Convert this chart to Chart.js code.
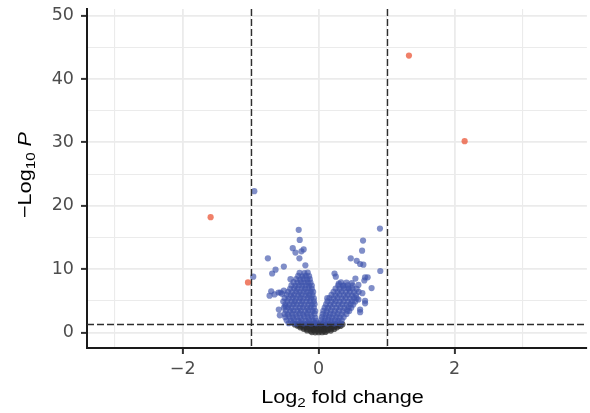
<!DOCTYPE html>
<html><head><meta charset="utf-8">
<script src="https://cdn.jsdelivr.net/npm/chart.js@4.4.1/dist/chart.umd.min.js"></script>
<style>html,body{margin:0;padding:0;background:#fff}#wrap{width:590px;height:413px}</style>
</head><body><div id="wrap"><canvas id="c" width="590" height="413"></canvas></div>
<script>
// ---- tick labels / axis ----
const xTickValues = [-2, 0, 2];
const xMinorValues = [-3, -1, 1, 3];
const yTickValues = [0, 10, 20, 30, 40, 50];
const yMinorValues = [5, 15, 25, 35, 45];
const xTitleParts = ["Log", "2", " fold change"];
const yTitleParts = ["\u2212Log", "10", " ", "P"];
const fcCutoff = 1;          // |log2 FC| cutoff
const pCutoffLog = 1.3;      // -log10(0.05)

// ---- NS (grey) ----
const notSig = [
[-0.10,0.06],[-0.05,0.02],[0.00,0.04],[0.05,0.03],[0.10,0.07],
[-0.17,0.31],[-0.12,0.27],[-0.07,0.33],[-0.02,0.28],[0.03,0.32],[0.08,0.26],[0.13,0.31],[0.18,0.29],
[-0.22,0.56],[-0.17,0.53],[-0.12,0.58],[-0.07,0.52],[-0.02,0.57],[0.03,0.54],[0.08,0.59],[0.13,0.53],[0.18,0.57],[0.23,0.55],
[-0.27,0.81],[-0.22,0.78],[-0.17,0.83],[-0.12,0.77],[-0.07,0.82],[-0.02,0.79],[0.03,0.84],[0.08,0.78],[0.13,0.82],[0.18,0.79],[0.23,0.83],[0.27,0.80],
[-0.31,1.06],[-0.26,1.03],[-0.21,1.08],[-0.16,1.02],[-0.11,1.07],[-0.06,1.04],[-0.01,1.09],[0.04,1.03],[0.09,1.06],[0.14,1.02],[0.19,1.08],[0.24,1.04],[0.29,1.07],[0.32,1.03],
[-0.35,1.26],[-0.30,1.23],[-0.25,1.28],[-0.20,1.24],[-0.15,1.27],[-0.10,1.22],[-0.05,1.28],[0.00,1.25],[0.05,1.27],[0.10,1.23],[0.15,1.28],[0.20,1.24],[0.25,1.27],[0.30,1.23],[0.35,1.26]
];

// ---- p-value only (blue), left arm ----
const pOnlyLeft = [
[-0.44,1.45],[-0.38,1.52],[-0.33,1.41],[-0.27,1.55],[-0.22,1.44],[-0.16,1.50],[-0.11,1.42],[-0.06,1.53],[-0.03,1.46],
[-0.47,1.92],[-0.41,1.85],[-0.36,1.97],[-0.30,1.88],[-0.25,1.95],[-0.19,1.86],[-0.14,1.98],[-0.09,1.90],[-0.04,1.84],
[-0.49,2.41],[-0.43,2.47],[-0.38,2.36],[-0.32,2.44],[-0.27,2.38],[-0.21,2.49],[-0.16,2.40],[-0.10,2.46],[-0.05,2.35],
[-0.50,2.92],[-0.45,2.86],[-0.39,2.95],[-0.34,2.88],[-0.28,2.97],[-0.23,2.85],[-0.17,2.93],[-0.12,2.89],[-0.06,2.96],
[-0.48,3.42],[-0.42,3.37],[-0.37,3.46],[-0.31,3.39],[-0.26,3.44],[-0.20,3.35],[-0.15,3.47],[-0.09,3.40],[-0.05,3.38],
[-0.51,3.91],[-0.45,3.96],[-0.40,3.86],[-0.34,3.94],[-0.28,3.88],[-0.23,3.97],[-0.17,3.85],[-0.12,3.93],[-0.07,3.89],
[-0.49,4.42],[-0.43,4.36],[-0.37,4.47],[-0.32,4.39],[-0.26,4.45],[-0.21,4.37],[-0.15,4.44],[-0.10,4.40],[-0.06,4.46],
[-0.52,4.88],[-0.46,4.95],[-0.40,4.86],[-0.35,4.93],[-0.29,4.89],[-0.24,4.96],[-0.18,4.87],[-0.13,4.94],[-0.07,4.90],
[-0.50,5.43],[-0.44,5.37],[-0.38,5.46],[-0.33,5.39],[-0.27,5.44],[-0.22,5.36],[-0.16,5.45],[-0.11,5.41],[-0.07,5.38],
[-0.47,5.93],[-0.41,5.87],[-0.36,5.95],[-0.30,5.88],[-0.25,5.96],[-0.19,5.86],[-0.14,5.92],[-0.09,5.89],
[-0.45,6.42],[-0.39,6.36],[-0.33,6.45],[-0.28,6.38],[-0.22,6.44],[-0.17,6.37],[-0.12,6.43],[-0.08,6.39],
[-0.42,6.88],[-0.36,6.95],[-0.31,6.86],[-0.25,6.93],[-0.20,6.89],[-0.15,6.96],[-0.10,6.87],
[-0.40,7.42],[-0.34,7.36],[-0.29,7.45],[-0.24,7.38],[-0.19,7.44],[-0.14,7.37],[-0.10,7.41],
[-0.37,7.93],[-0.31,7.87],[-0.26,7.95],[-0.21,7.88],[-0.16,7.92],[-0.12,7.86],
[-0.33,8.42],[-0.27,8.36],[-0.22,8.45],[-0.17,8.38],[-0.13,8.41],
[-0.30,8.92],[-0.24,8.87],[-0.19,8.95],[-0.14,8.89],
[-0.28,9.42],[-0.21,9.37],[-0.16,9.45]
];

// ---- p-value only (blue), right arm ----
const pOnlyRight = [
[0.03,1.46],[0.08,1.52],[0.13,1.43],[0.18,1.55],[0.23,1.44],[0.28,1.50],[0.33,1.42],
[0.04,1.93],[0.09,1.86],[0.14,1.97],[0.19,1.88],[0.24,1.95],[0.29,1.87],[0.34,1.92],
[0.05,2.42],[0.10,2.37],[0.15,2.46],[0.20,2.39],[0.26,2.45],[0.31,2.36],[0.37,2.43],
[0.06,2.91],[0.11,2.87],[0.17,2.95],[0.22,2.88],[0.28,2.94],[0.34,2.86],[0.41,2.92],
[0.07,3.42],[0.12,3.36],[0.18,3.45],[0.24,3.38],[0.30,3.44],[0.36,3.37],[0.42,3.43],[0.45,3.39],
[0.09,3.91],[0.14,3.87],[0.20,3.95],[0.26,3.88],[0.32,3.94],[0.38,3.86],[0.44,3.92],[0.48,3.89],
[0.11,4.42],[0.17,4.37],[0.23,4.46],[0.29,4.39],[0.35,4.44],[0.41,4.36],[0.47,4.43],[0.51,4.40],
[0.13,4.91],[0.19,4.87],[0.25,4.95],[0.31,4.88],[0.37,4.94],[0.43,4.86],[0.49,4.92],[0.54,4.89],
[0.16,5.42],[0.22,5.37],[0.28,5.45],[0.34,5.38],[0.40,5.44],[0.46,5.36],[0.52,5.43],[0.56,5.40],
[0.19,5.92],[0.25,5.86],[0.31,5.95],[0.37,5.88],[0.43,5.94],[0.49,5.87],[0.55,5.91],
[0.22,6.42],[0.28,6.37],[0.34,6.45],[0.40,6.38],[0.46,6.44],[0.52,6.36],[0.59,6.41],
[0.25,6.92],[0.31,6.86],[0.37,6.95],[0.44,6.88],[0.50,6.93],[0.56,6.87],
[0.29,7.42],[0.36,7.37],[0.43,7.44],[0.50,7.39],
[0.33,7.92],[0.41,7.88]
];

// ---- p-value only (blue), scattered ----
const pOnlyScatter = [
[-0.947,22.3],[-0.293,16.2],[-0.278,14.6],[-0.381,13.3],[-0.341,12.6],[-0.220,13.1],[-0.253,12.8],
[-0.283,11.7],[-0.747,11.7],[-0.195,10.6],[-0.512,10.4],[-0.634,9.9],[-0.684,9.3],[-0.962,8.8],
[-0.414,8.4],[-0.698,6.5],[-0.722,5.8],[-0.649,6.0],[-0.561,6.3],[-0.512,6.6],[-0.571,2.7],
[-0.586,3.6],[-0.488,4.1],[-0.59,6.3],[-0.54,6.1],
[0.903,16.4],[0.654,14.5],[0.640,12.9],[0.473,11.7],[0.561,11.3],[0.611,10.8],[0.659,10.7],
[0.908,9.7],[0.234,9.3],[0.253,8.8],[0.684,8.7],[0.722,8.7],[0.542,8.5],[0.673,8.2],
[0.488,7.8],[0.586,7.5],[0.439,7.0],[0.297,7.7],[0.366,7.4],[0.780,7.0],[0.644,6.2],
[0.684,5.0],[0.611,3.2],[0.127,5.4],[0.586,5.2],[0.684,4.6],[0.611,3.6]
];

// ---- log2FC and p-value (red) ----
const fcAndP = [[1.33,43.7],[2.15,30.2],[-1.59,18.2],[-1.04,7.9]];

const toXY = arr => arr.map(p => ({x: p[0], y: p[1]}));
const fmt = v => v < 0 ? '\u2212' + Math.abs(v) : String(v);
const TITLE_FONT = "'Liberation Sans', Arial, sans-serif";
const TICK_FONT = "'DejaVu Sans', sans-serif";

const overlay = {
  id: 'overlay',
  afterDatasetsDraw(chart) {
    const {ctx, chartArea: a, scales: {x, y}} = chart;
    ctx.save();
    ctx.beginPath(); ctx.rect(a.left, a.top, a.right - a.left, a.bottom - a.top); ctx.clip();
    ctx.strokeStyle = '#2e2e2e'; ctx.lineWidth = 1.4; ctx.setLineDash([7, 3]);
    [-fcCutoff, fcCutoff].forEach(v => {
      const px = Math.round(x.getPixelForValue(v)) + 0.5;
      ctx.beginPath(); ctx.moveTo(px, a.top); ctx.lineTo(px, a.bottom); ctx.stroke();
    });
    const py = Math.round(y.getPixelForValue(pCutoffLog)) + 0.5;
    ctx.beginPath(); ctx.moveTo(a.left, py); ctx.lineTo(a.right, py); ctx.stroke();
    ctx.restore();
  },
  afterDraw(chart) {
    const {ctx} = chart;
    const big = 18.5, small = 13, stretch = 1.17;
    function segs(parts, spec) {
      return parts.map((t, i) => ({t, size: spec[i].sub ? small : big, dy: spec[i].sub ? 4 : 0, italic: !!spec[i].italic}));
    }
    function draw(list, cx, cy, rot) {
      ctx.save();
      ctx.translate(cx, cy); if (rot) ctx.rotate(rot);
      ctx.scale(stretch, 1);
      ctx.fillStyle = '#000'; ctx.textBaseline = 'alphabetic'; ctx.textAlign = 'left';
      let w = 0;
      list.forEach(s => { ctx.font = (s.italic ? 'italic ' : '') + s.size + 'px ' + TITLE_FONT; s.w = ctx.measureText(s.t).width; w += s.w; });
      let xx = -w / 2;
      list.forEach(s => { ctx.font = (s.italic ? 'italic ' : '') + s.size + 'px ' + TITLE_FONT; ctx.fillText(s.t, xx, s.dy); xx += s.w; });
      ctx.restore();
    }
    draw(segs(xTitleParts, [{}, {sub: true}, {}]), 342.5, 402.5, 0);
    draw(segs(yTitleParts, [{}, {sub: true}, {}, {italic: true}]), 30.5, 175, -Math.PI / 2);
  }
};

const majorX = v => xTickValues.includes(v);
const majorY = v => yTickValues.includes(v);

new Chart(document.getElementById('c'), {
  type: 'scatter',
  data: {
    datasets: [
      {label: 'NS', data: toXY(notSig), backgroundColor: 'rgba(45,45,45,0.72)', order: 3},
      {label: 'p-value', data: toXY(pOnlyLeft.concat(pOnlyRight, pOnlyScatter)), backgroundColor: 'rgba(62,84,172,0.66)', order: 2},
      {label: 'p-value and log2 FC', data: toXY(fcAndP), backgroundColor: 'rgba(235,85,55,0.75)', order: 1}
    ]
  },
  options: {
    responsive: false, animation: false, devicePixelRatio: 1,
    layout: {padding: {left: 0, right: -3, top: 9, bottom: 0}},
    elements: {point: {radius: 3.1, borderWidth: 0, hoverRadius: 3.1, hitRadius: 0}},
    plugins: {legend: {display: false}, tooltip: {enabled: false}},
    events: [],
    scales: {
      x: {
        type: 'linear', min: -3.41, max: 3.95,
        afterBuildTicks: s => { s.ticks = xMinorValues.concat(xTickValues).sort((a, b) => a - b).map(v => ({value: v})); },
        afterFit: s => { s.height = 65; s.paddingLeft = 0; s.paddingRight = 0; },
        ticks: {autoSkip: false, maxRotation: 0, padding: 5, color: '#4d4d4d', font: {family: TICK_FONT, size: 17.5},
                callback: v => majorX(v) ? fmt(v) : ''},
        grid: {color: '#ebebeb', lineWidth: c => majorX(c.tick.value) ? 1.8 : 1.1,
               tickColor: c => majorX(c.tick.value) ? '#333' : 'rgba(0,0,0,0)', tickLength: 6, tickWidth: 2},
        border: {display: true, color: '#1a1a1a', width: 2}
      },
      y: {
        type: 'linear', min: -2.46, max: 51.06,
        afterBuildTicks: s => { s.ticks = yTickValues.concat(yMinorValues).sort((a, b) => a - b).map(v => ({value: v})); },
        afterFit: s => { s.width = 87; s.paddingTop = 0; s.paddingBottom = 0; },
        ticks: {autoSkip: false, padding: 7, color: '#4d4d4d', font: {family: TICK_FONT, size: 17.5},
                callback: v => majorY(v) ? fmt(v) : ''},
        grid: {color: '#ebebeb', lineWidth: c => majorY(c.tick.value) ? 1.8 : 1.1,
               tickColor: c => majorY(c.tick.value) ? '#333' : 'rgba(0,0,0,0)', tickLength: 6, tickWidth: 2},
        border: {display: true, color: '#1a1a1a', width: 2}
      }
    }
  },
  plugins: [overlay]
});
</script>
</body></html>
